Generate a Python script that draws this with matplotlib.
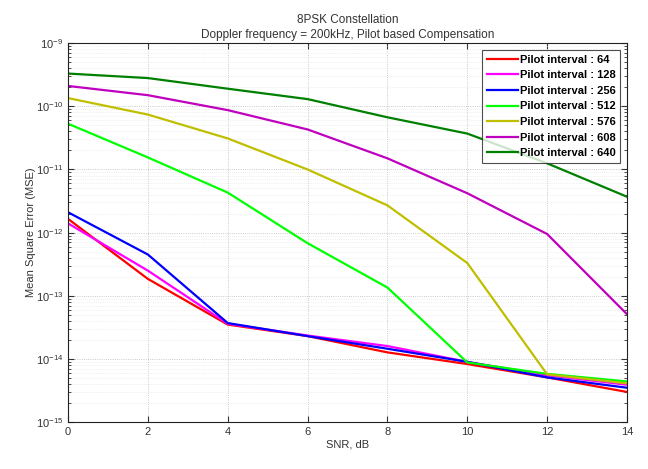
import numpy as np
import matplotlib
matplotlib.use("Agg")
from matplotlib import pyplot as plt
from matplotlib.ticker import FixedLocator, NullFormatter

plt.rcParams["font.family"] = ["Liberation Sans", "DejaVu Sans"]
plt.rcParams["mathtext.fontset"] = "custom"
plt.rcParams["mathtext.rm"] = "Liberation Sans"

snr_db = [0, 2, 4, 6, 8, 10, 12, 14]

pilot_labels = [
    "Pilot interval : 64",
    "Pilot interval : 128",
    "Pilot interval : 256",
    "Pilot interval : 512",
    "Pilot interval : 576",
    "Pilot interval : 608",
    "Pilot interval : 640",
]

mse_64 = [1.65e-12, 1.85e-13, 3.5e-14, 2.3e-14, 1.27e-14, 8.3e-15, 5.1e-15, 3.0e-15]
mse_128 = [1.4e-12, 2.5e-13, 3.6e-14, 2.35e-14, 1.6e-14, 9.0e-15, 5.5e-15, 3.9e-15]
mse_256 = [2.1e-12, 4.5e-13, 3.7e-14, 2.3e-14, 1.45e-14, 9.0e-15, 5.1e-15, 3.5e-15]
mse_512 = [5.3e-11, 1.55e-11, 4.3e-12, 6.8e-13, 1.35e-13, 8.8e-15, 5.8e-15, 4.4e-15]
mse_576 = [1.35e-10, 7.4e-11, 3.1e-11, 1.0e-11, 2.7e-12, 3.3e-13, 5.7e-15, 4.1e-15]
mse_608 = [2.1e-10, 1.5e-10, 8.7e-11, 4.3e-11, 1.5e-11, 4.2e-12, 9.5e-13, 5.1e-14]
mse_640 = [3.3e-10, 2.8e-10, 1.9e-10, 1.3e-10, 6.7e-11, 3.7e-11, 1.25e-11, 3.7e-12]

series = [mse_64, mse_128, mse_256, mse_512, mse_576, mse_608, mse_640]
colors = ["#ff0000", "#ff00ff", "#0000ff", "#00ff00", "#bfbf00", "#bf00bf", "#008000"]

fig = plt.figure(figsize=(6.48, 4.69), dpi=100)
ax = fig.add_axes([0.105, 0.100, 0.8626, 0.808])

for vals, lab, col in zip(series, pilot_labels, colors):
    ax.semilogy(snr_db, vals, color=col, linewidth=1.6, label=lab)

ax.set_xlim(0, 14)
ax.set_ylim(1e-15, 1e-9)
ax.set_xticks(snr_db)

# decades only inside the axis range, so no labels sit off the figure
decades = np.arange(-15, -8)
ax.yaxis.set_major_locator(FixedLocator(10.0 ** decades))
minor = [m * 10.0 ** d for d in decades[:-1] for m in range(2, 10)]
ax.yaxis.set_minor_locator(FixedLocator(minor))
ax.yaxis.set_minor_formatter(NullFormatter())

ax.grid(True, which="major", linestyle=":", color="#b8b8b8", linewidth=0.6)
ax.grid(True, which="minor", axis="y", linestyle=":", color="#e4e4e4", linewidth=0.5)

ax.tick_params(which="both", direction="in", top=True, right=True, labelsize=8,
               colors="#333333")
ax.tick_params(which="major", length=4)
ax.tick_params(which="minor", length=2)
for sp in ax.spines.values():
    sp.set_linewidth(0.8)
    sp.set_color("#222222")

ax.set_xlabel("SNR, dB", fontsize=8, color="#333333", labelpad=2)
ax.set_ylabel("Mean Square Error (MSE)", fontsize=8, color="#333333", labelpad=0)
ax.set_title("8PSK Constellation\nDoppler frequency = 200kHz, Pilot based Compensation",
             fontsize=8.5, color="#333333", linespacing=1.3, pad=4)

leg = ax.legend(loc="upper right", prop={"weight": "bold", "size": 8},
                frameon=True, fancybox=False, handlelength=2.8, handletextpad=0.15,
                labelspacing=0.5, borderpad=0.45, borderaxespad=0.6)
leg.get_frame().set_edgecolor("#222222")
leg.get_frame().set_linewidth(0.8)

fig.savefig("out.png", dpi=100)
